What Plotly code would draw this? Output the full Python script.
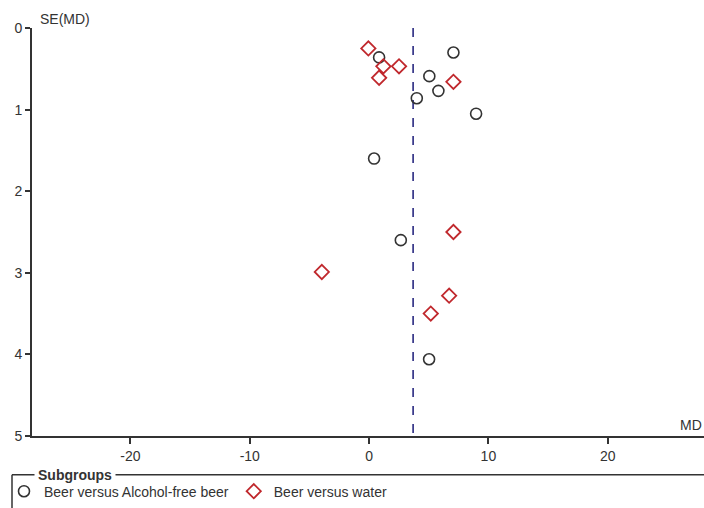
import plotly.graph_objects as go

# Data
afb_md = [7.07, 0.84, 5.05, 5.81, 4.00, 8.97, 0.42, 2.66, 5.03]
afb_se = [0.30, 0.36, 0.59, 0.77, 0.86, 1.05, 1.60, 2.60, 4.06]
water_md = [-0.06, 1.20, 2.51, 0.84, 7.07, 7.07, -3.96, 6.71, 5.17]
water_se = [0.25, 0.47, 0.47, 0.61, 0.66, 2.50, 2.99, 3.28, 3.50]
pooled_md = 3.69
se_limits = [0, 5]
x_ticks = [-20, -10, 0, 10, 20]
x_tick_labels = ["-20", "-10", "0", "10", "20"]
y_ticks = [0, 1, 2, 3, 4, 5]
series_names = ["Beer versus Alcohol-free beer", "Beer versus water"]

W, H = 704, 508
ML, MR, MT, MB = 32, 0, 28, 69
PW, PH = W - ML - MR, H - MT - MB

def px_x(p):
    return (p - ML) / PW

def px_y(p):
    return (H - MB - p) / PH

FONT = "Liberation Sans, Arial, sans-serif"
TXT = "#333333"

fig = go.Figure()

fig.add_trace(go.Scatter(
    x=[pooled_md, pooled_md], y=se_limits, mode="lines",
    line=dict(color="#1b1b78", width=1.5, dash="dash"),
    showlegend=False, hoverinfo="skip"))

fig.add_trace(go.Scatter(
    x=afb_md, y=afb_se, mode="markers", name=series_names[0],
    marker=dict(symbol="circle-open", size=11, color="#333333",
                line=dict(width=1.6, color="#333333"))))

fig.add_trace(go.Scatter(
    x=water_md, y=water_se, mode="markers", name=series_names[1],
    marker=dict(symbol="diamond-open", size=11, color="#c0282d",
                line=dict(width=1.8, color="#c0282d"))))

fig.update_layout(
    width=W, height=H, autosize=False,
    margin=dict(l=ML, r=MR, t=MT, b=MB, pad=0),
    paper_bgcolor="white", plot_bgcolor="white",
    font=dict(family=FONT, size=14, color=TXT),
    xaxis=dict(range=[-28.25, 28.07], tickvals=x_ticks, ticktext=x_tick_labels,
               ticks="outside", ticklen=6, tickwidth=1.5, tickcolor="#333333",
               showline=True, linecolor="#333333", linewidth=2,
               showgrid=False, zeroline=False, fixedrange=True,
               tickfont=dict(size=14, color=TXT)),
    yaxis=dict(range=[se_limits[1], se_limits[0]], tickvals=y_ticks, ticks="outside",
               ticklen=5, tickwidth=1.5, tickcolor="#333333",
               showline=True, linecolor="#333333", linewidth=2,
               showgrid=False, zeroline=False, fixedrange=True,
               tickfont=dict(size=14, color=TXT)),
    showlegend=True,
    legend=dict(orientation="h", x=px_x(4), xanchor="left",
                y=px_y(495), yanchor="middle",
                bgcolor="rgba(0,0,0,0)", font=dict(size=14, color=TXT),
                itemwidth=30, tracegroupgap=0),
)

# Legend frame (top and left borders)
fig.add_shape(type="line", xref="paper", yref="paper",
              x0=px_x(12), x1=1, y0=px_y(478), y1=px_y(478),
              line=dict(color="#333333", width=1.5))
fig.add_shape(type="line", xref="paper", yref="paper",
              x0=px_x(12), x1=px_x(12), y0=px_y(478), y1=px_y(520),
              line=dict(color="#333333", width=1.5))

fig.add_annotation(text="<b>Subgroups</b>", xref="paper", yref="paper",
                   x=px_x(34), y=px_y(478), xanchor="left", yanchor="middle",
                   showarrow=False, bgcolor="white", borderpad=3,
                   font=dict(size=14, color=TXT, family=FONT))
fig.add_annotation(text="SE(MD)", xref="paper", yref="paper",
                   x=px_x(38), y=px_y(19), xanchor="left", yanchor="middle",
                   showarrow=False, font=dict(size=14, color=TXT, family=FONT))
fig.add_annotation(text="MD", xref="paper", yref="paper",
                   x=1, y=px_y(428), xanchor="right", yanchor="middle",
                   showarrow=False, font=dict(size=14, color=TXT, family=FONT))

fig.write_html("out.html",
               config={"displayModeBar": False, "responsive": False},
               post_script="document.body.style.margin='0';document.body.style.overflow='hidden';")
